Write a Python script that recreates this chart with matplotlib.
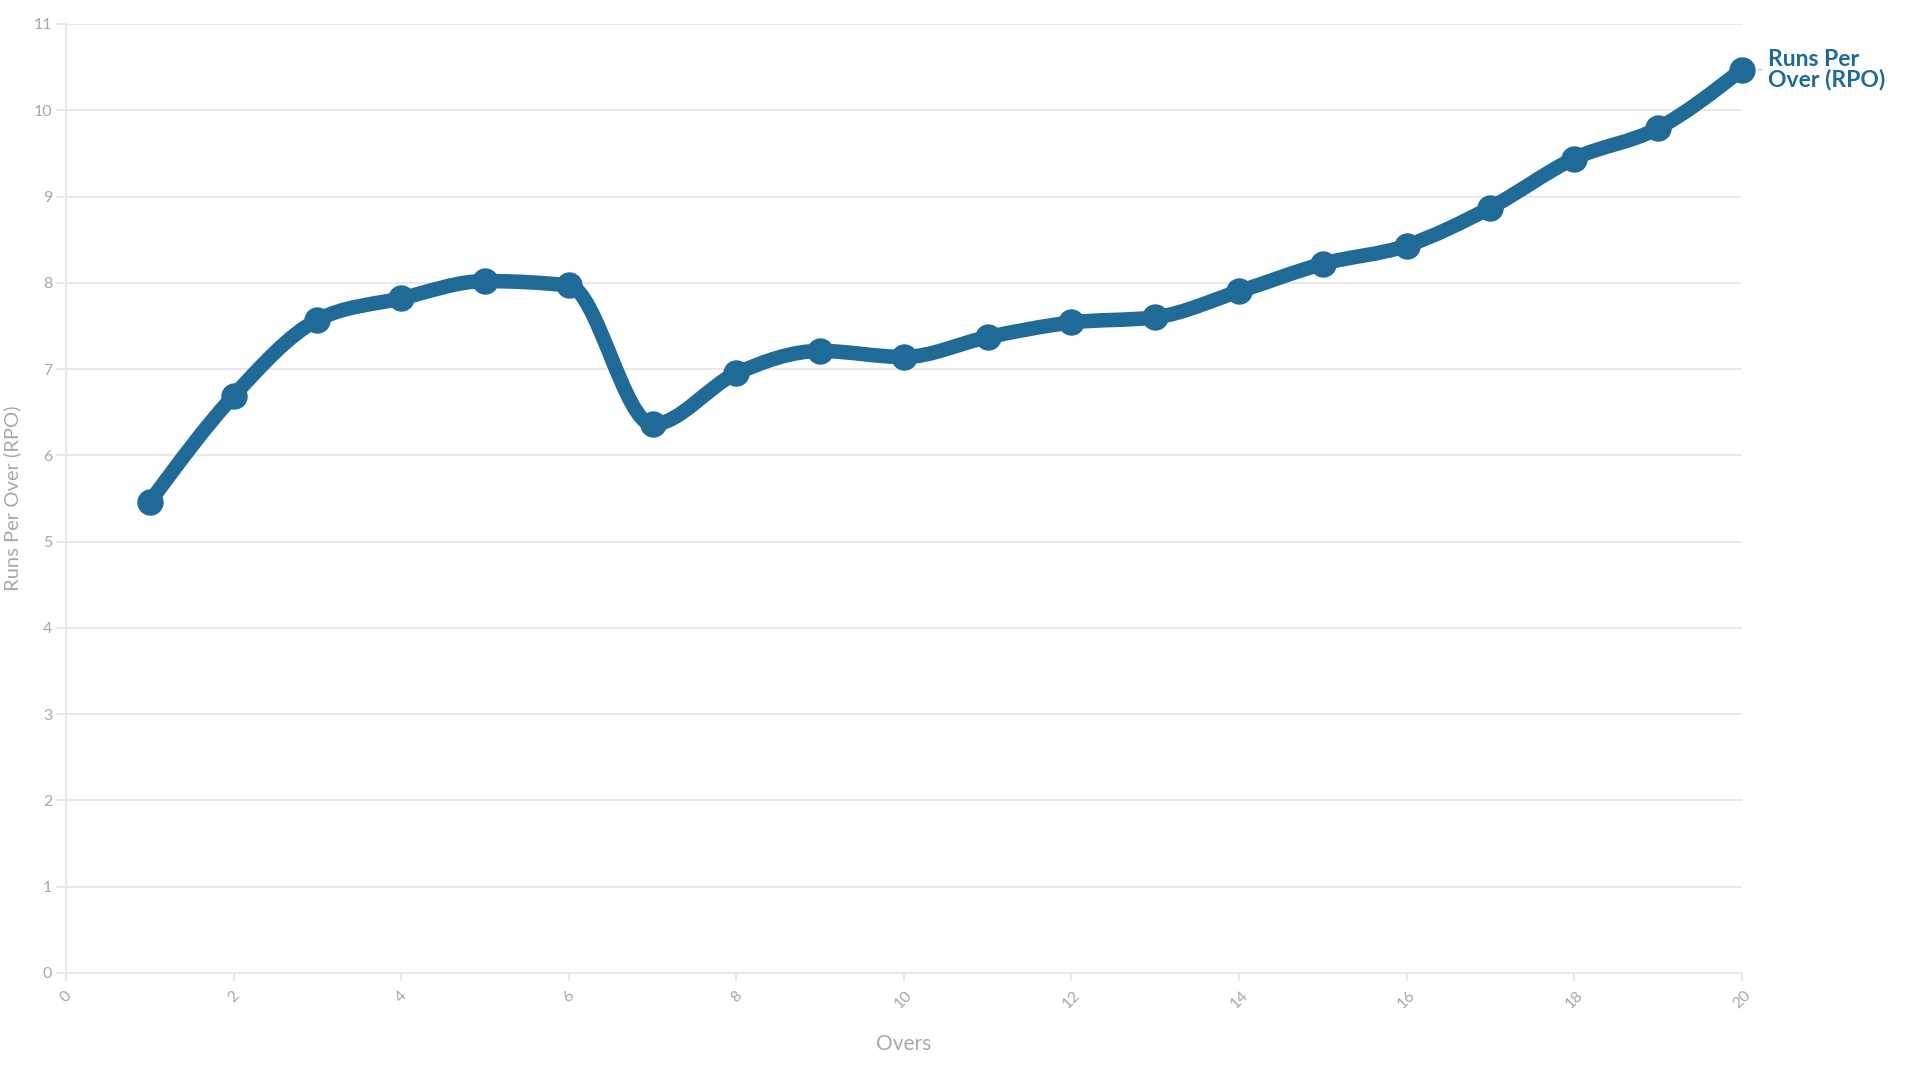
import matplotlib as mpl
mpl.use('Agg')
import matplotlib.pyplot as plt
from matplotlib.path import Path
from matplotlib.patches import PathPatch
import numpy as np

overs = [1, 2, 3, 4, 5, 6, 7, 8, 9, 10, 11, 12, 13, 14, 15, 16, 17, 18, 19, 20]
rpo = [5.46, 6.69, 7.57, 7.82, 8.02, 7.97, 6.36, 6.95, 7.21, 7.14,
       7.37, 7.54, 7.60, 7.90, 8.22, 8.43, 8.87, 9.44, 9.79, 10.47]
series_name = 'Runs Per\nOver (RPO)'

blue = '#1f6a96'
grey_txt = '#a8a8a8'
grey_line = '#e8e8e8'

plt.rcParams['font.family'] = ['Lato', 'DejaVu Sans']


def monotone_path(x, y):
    # same idea as d3.curveMonotoneX: cubic bezier pieces
    x = np.asarray(x, float)
    y = np.asarray(y, float)
    n = len(x)
    h = np.diff(x)
    s = np.diff(y) / h
    t = np.zeros(n)
    for i in range(1, n - 1):
        p = (s[i - 1] * h[i] + s[i] * h[i - 1]) / (h[i - 1] + h[i])
        t[i] = (np.sign(s[i - 1]) + np.sign(s[i])) * min(abs(s[i - 1]), abs(s[i]), 0.5 * abs(p))
    t[0] = (3 * s[0] - t[1]) / 2
    t[-1] = (3 * s[-1] - t[-2]) / 2
    verts = [(x[0], y[0])]
    codes = [Path.MOVETO]
    for i in range(n - 1):
        dx = h[i] / 3
        verts += [(x[i] + dx, y[i] + dx * t[i]),
                  (x[i + 1] - dx, y[i + 1] - dx * t[i + 1]),
                  (x[i + 1], y[i + 1])]
        codes += [Path.CURVE4] * 3
    return Path(verts, codes)


fig = plt.figure(figsize=(19.2, 10.8), dpi=100)
ax = fig.add_axes([0.0344, 0.0991, 0.8727, 0.8787])

ax.set_xlim(0, 20)
ax.set_ylim(0, 11)
ax.set_yticks(range(0, 12))
ax.set_xticks(range(0, 21, 2))
ax.yaxis.grid(True, color=grey_line, linewidth=1.5)
ax.set_axisbelow(True)

for side in ['top', 'right']:
    ax.spines[side].set_visible(False)
for side in ['left', 'bottom']:
    ax.spines[side].set_color(grey_line)
    ax.spines[side].set_linewidth(1.5)

ax.tick_params(axis='y', length=7, width=1.5, color=grey_line, labelcolor=grey_txt,
               labelsize=11.5, pad=3)
ax.tick_params(axis='x', length=6, width=1.5, color=grey_line, labelcolor=grey_txt,
               labelsize=11.5, pad=5)
for lab in ax.get_xticklabels():
    lab.set_rotation(45)
    lab.set_ha('center')
    lab.set_va('top')

ax.add_patch(PathPatch(monotone_path(overs, rpo), fill=False, edgecolor=blue,
                       linewidth=10.5, capstyle='round', joinstyle='round',
                       clip_on=False, zorder=3))
ax.plot(overs, rpo, linestyle='none', marker='o', markersize=18,
        color=blue, clip_on=False, zorder=4)

ax.annotate(series_name, xy=(overs[-1], rpo[-1]), xytext=(19, 0),
            textcoords='offset points', ha='left', va='center',
            fontsize=16.5, fontweight='bold', color=blue, linespacing=0.92,
            arrowprops=dict(arrowstyle='-', color='#c8c8c8', lw=1,
                            relpos=(0, 0.5), shrinkA=2, shrinkB=12))

ax.set_xlabel('Overs', color=grey_txt, fontsize=15, labelpad=16)
ax.set_ylabel('Runs Per Over (RPO)', color=grey_txt, fontsize=14.5, labelpad=9)

fig.savefig('out.png', dpi=100)
